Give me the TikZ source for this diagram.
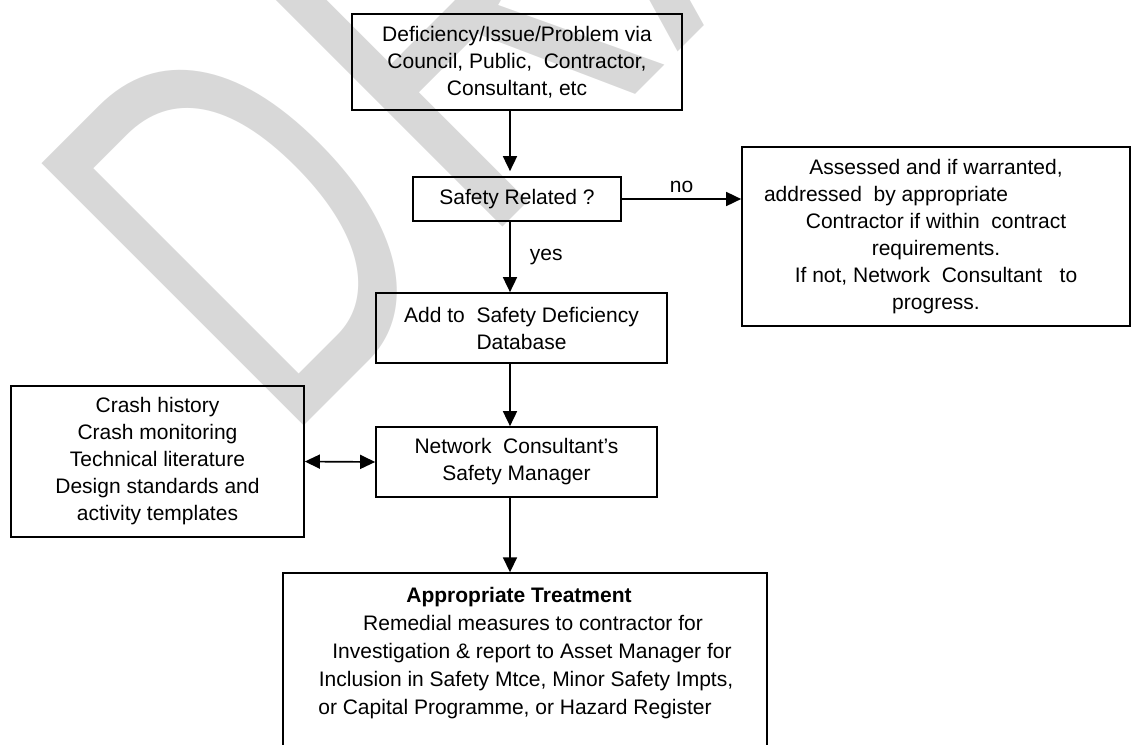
\documentclass[tikz,border=0pt]{standalone}
\usepackage{fontspec}
\setmainfont{Liberation Sans}
\usetikzlibrary{arrows.meta}
\definecolor{wmgrey}{RGB}{216,216,216}
\newcommand\fsz{\fontsize{21}{27}\selectfont}
\begin{document}
\begin{tikzpicture}[x=1pt,y=-1pt,
  box/.style={draw,line width=1.7pt,inner sep=0pt,align=center,font=\fsz},
  txt/.style={inner sep=0pt,align=center,font=\fsz},
  arr/.style={line width=1.7pt,-{Triangle[length=15pt,width=14pt]}},
  dblarr/.style={line width=1.7pt,{Triangle[length=15pt,width=14pt]}-{Triangle[length=15pt,width=14pt]}}]
\useasboundingbox (0,0) rectangle (1131,744);
% watermark
\node[rotate=45,anchor=base west,inner sep=0pt,text=wmgrey] (wmark) at (283,447)
  {\fontsize{539}{539}\selectfont\scalebox{0.66}[1]{D}\kern21.7pt\scalebox{0.716}[1]{RAFT}};
% boxes
\node[box,minimum width=330pt,minimum height=96pt] (top) at (517,62)
  {Deficiency/Issue/Problem via\\Council, Public,\ \ Contractor,\\Consultant, etc};
\node[box,minimum width=208pt,minimum height=44pt] (safety) at (517,199)
  {Safety Related ?};
\node[box,minimum width=388pt,minimum height=179pt] (assess) at (936,236.5)
  {Assessed and if warranted,\\addressed\ \ by appropriate\hbox to 100pt{}\\Contractor if within\ \ contract\\requirements.\\If not, Network\ \ Consultant\ \ \ to\\progress.};
\node[box,minimum width=291pt,minimum height=70pt] (add) at (521.5,328)
  {Add to\ \ Safety Deficiency\\Database};
\node[box,minimum width=281pt,minimum height=70pt] (net) at (516.5,462)
  {Network\ \ Consultant’s\\Safety Manager};
\node[box,minimum width=293pt,minimum height=151pt] (src) at (157.5,461.5)
  {Crash history\\Crash monitoring\\Technical literature\\Design standards and\\activity templates};
\node[box,minimum width=484pt,minimum height=180pt,anchor=north] (treat) at (525,572.3) {};
\node[txt,font=\fontsize{21}{28}\selectfont] (treattext) at (525,653.4)
  {\textbf{Appropriate Treatment}\hbox to 12pt{}\\
   \hbox to 16pt{}Remedial measures to contractor for\\
   \hbox to 14pt{}Investigation \& report to Asset Manager for\\
   \hbox to 2pt{}Inclusion in Safety Mtce, Minor Safety Impts,\\
   or Capital Programme, or Hazard Register\hbox to 20pt{}};
% connectors
\draw[arr,shorten >=5pt] ([xshift=-7pt]top.south) -- ([xshift=-7pt]safety.north);
\draw[arr] (safety.east) -- (assess.west |- safety.east)
  node[midway,above=5pt,txt] (nolab) {no};
\draw[arr] ([xshift=-7pt]safety.south) -- ([xshift=-11.5pt]add.north)
  node[midway,right=19pt,txt] (yeslab) {yes};
\draw[arr] ([xshift=-11.5pt]add.south) -- ([xshift=-6.5pt]net.north);
\draw[dblarr] (src.east) -- (net.west);
\draw[arr] ([xshift=-6.5pt]net.south) -- ([xshift=-15pt]treat.north);
\end{tikzpicture}
\end{document}
